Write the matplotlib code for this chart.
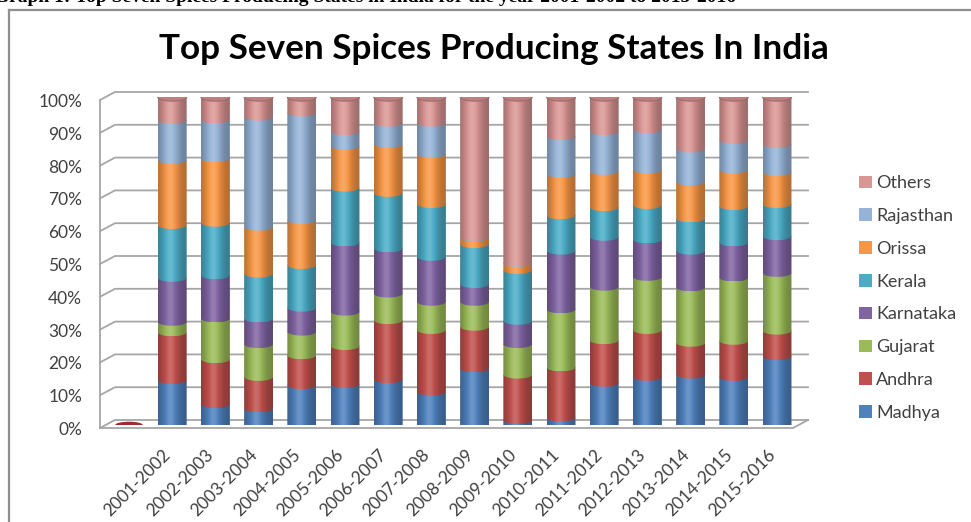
import numpy as np
import matplotlib
matplotlib.use("Agg")
import matplotlib.pyplot as plt
import matplotlib.transforms as mtransforms
from matplotlib.patches import PathPatch, Ellipse, Patch
from matplotlib.path import Path
from matplotlib.colors import to_rgb

# ---- data: share of spice production (%) by state and year ----
years = ["", "2001-2002", "2002-2003", "2003-2004", "2004-2005", "2005-2006",
         "2006-2007", "2007-2008", "2008-2009", "2009-2010", "2010-2011",
         "2011-2012", "2012-2013", "2013-2014", "2014-2015", "2015-2016"]
madhya    = [0, 13.7, 6.4, 5.1, 12.2, 12.5, 14.0, 10.2, 17.3, 1.5, 2.3, 12.9, 14.7, 15.4, 14.7, 21.0]
andhra    = [0, 14.6, 13.7, 9.6, 9.1, 11.6, 18.0, 18.8, 12.7, 13.9, 15.3, 13.0, 14.3, 9.7, 11.0, 7.8]
gujarat   = [0, 3.2, 12.4, 10.0, 7.2, 10.5, 8.1, 8.6, 7.6, 9.3, 17.7, 16.3, 16.2, 16.9, 19.3, 17.6]
karnataka = [0, 13.4, 13.2, 7.8, 7.3, 21.1, 13.8, 13.7, 5.4, 7.1, 17.9, 15.2, 11.4, 11.2, 10.7, 11.2]
kerala    = [0, 16.1, 16.0, 13.7, 13.0, 16.7, 16.9, 16.1, 12.2, 15.5, 10.8, 9.0, 10.5, 9.8, 11.1, 9.8]
orissa    = [0, 19.8, 19.6, 14.3, 13.7, 12.7, 14.9, 15.2, 2.0, 2.2, 12.5, 11.1, 10.8, 11.2, 11.1, 9.8]
rajasthan = [0, 12.2, 11.9, 33.5, 32.8, 4.5, 6.5, 9.6, 0.2, 0.2, 11.6, 12.1, 12.3, 10.1, 9.0, 8.5]
others    = [0, 7.0, 6.8, 6.0, 4.7, 10.4, 7.8, 7.8, 42.6, 50.3, 11.9, 10.4, 9.8, 15.7, 13.1, 14.3]

series_names = ["Madhya", "Andhra", "Gujarat", "Karnataka", "Kerala", "Orissa", "Rajasthan", "Others"]
series_values = [madhya, andhra, gujarat, karnataka, kerala, orissa, rajasthan, others]
series_colors = ["#4F81BD", "#C0504D", "#9BBB59", "#8064A2", "#4BACC6", "#F79646", "#95B3D7", "#D99694"]
y_ticks = list(range(0, 101, 10))

W, H, DPI = 971, 522, 100
fig = plt.figure(figsize=(W / DPI, H / DPI), dpi=DPI)
fig.patch.set_facecolor("white")

# layout of the plot plane (where the cylinders stand), in pixels
px_left, px_right = 106, 799
px_base, px_top = 425, 97
slot0_px, slot_step = 129, 43.2
front_off = (-6, 3)    # pixel shift of the front edge of the 3-D box
back_off = (9, -5)     # pixel shift of the back wall

# decoration layer in pixel units (walls, gridlines, frame)
deco = fig.add_axes([0, 0, 1, 1], zorder=0)
deco.set_xlim(0, W)
deco.set_ylim(H, 0)
deco.set_axis_off()

ax = fig.add_axes([px_left / W, (H - px_base) / H,
                   (px_right - px_left) / W, (px_base - px_top) / H], zorder=1)
ax.set_axis_off()
xl = (px_left - slot0_px) / slot_step
xr = (px_right - slot0_px) / slot_step
ax.set_xlim(xl, xr)
ax.set_ylim(0, 100)
ax.set_autoscale_on(False)


def py(p):
    return px_base - p * (px_base - px_top) / 100.0


grid_c = "#a6a6a6"
lw = 1.3
for p in y_ticks:
    fx, fy = px_left + front_off[0], py(p) + front_off[1]
    bx, by = px_left + back_off[0], py(p) + back_off[1]
    ex = px_right + back_off[0]
    deco.plot([fx, bx, ex], [fy, by, by], color=grid_c, lw=lw, solid_joinstyle="miter")
# left axis and floor
deco.plot([px_left + front_off[0]] * 2, [py(0) + front_off[1], py(100) + front_off[1]],
          color=grid_c, lw=lw)
deco.plot([px_left + front_off[0], px_right + front_off[0], px_right + back_off[0]],
          [py(0) + front_off[1], py(0) + front_off[1], py(0) + back_off[1]],
          color=grid_c, lw=lw)

# y tick labels
for p in y_ticks:
    deco.text(px_left + front_off[0] - 18, py(p) + front_off[1] + 2, f"{p}%",
              ha="right", va="center", fontsize=12.5, color="#404040", family="Lato")


def shaded(rgb, n=64):
    u = np.linspace(-1, 1, n)
    f = 0.72 + 0.36 * np.exp(-((u + 0.15) / 0.6) ** 2)
    base = np.array(rgb)[None, :]
    c = base * f[:, None]
    hi = f > 1
    c[hi] = base + (1 - base) * (f[hi, None] - 1) * 2
    return np.clip(c, 0, 1)[None, :, :]


hw = 0.335   # cylinder half-width (category units)
ry = 1.25    # ellipse half-height (percent units)
tt = np.linspace(np.pi, 2 * np.pi, 40)

vals = np.array(series_values, dtype=float)
totals = vals.sum(axis=0)
for i in range(len(years)):
    if totals[i] <= 0:
        ax.add_patch(Ellipse((i, 0), 2 * hw * 0.95, 2 * ry * 0.8,
                             facecolor="#9b2d2a", edgecolor="none", zorder=3))
        continue
    shares = vals[:, i] / totals[i] * 100
    bottom = 0.0
    for k, s in enumerate(shares):
        top = bottom + s
        xs = list(i + hw * np.cos(tt)) + [i + hw, i - hw]
        ys = list(bottom + ry * np.sin(tt)) + [top, top]
        path = Path(np.column_stack([xs, ys]))
        clip = PathPatch(path, transform=ax.transData, facecolor="none", edgecolor="none")
        im = ax.imshow(shaded(to_rgb(series_colors[k])),
                       extent=(i - hw, i + hw, bottom - ry, top),
                       aspect="auto", interpolation="bilinear", origin="lower",
                       zorder=3 + k * 0.01)
        im.set_clip_path(clip)
        bottom = top
    top_rgb = np.array(to_rgb(series_colors[-1]))
    ax.add_patch(Ellipse((i, bottom), 2 * hw, 2 * ry, facecolor=top_rgb * 0.86,
                         edgecolor=top_rgb * 0.72, lw=0.8, zorder=4))

ax.set_xlim(xl, xr)
ax.set_ylim(0, 100)

# category labels
xlab_tr = mtransforms.blended_transform_factory(ax.transData, fig.transFigure)
xlab_tr = xlab_tr + mtransforms.ScaledTranslation(-4 / DPI, 0, fig.dpi_scale_trans)
for i, lab in enumerate(years):
    if lab:
        ax.text(i, 1 - 452 / H, lab, transform=xlab_tr, rotation=45, rotation_mode="anchor",
                ha="right", va="center", fontsize=12.5, color="#404040", family="Lato")

# legend (top entry first)
handles = [Patch(facecolor=c, edgecolor="none") for c in series_colors][::-1]
fig.legend(handles, series_names[::-1], loc="upper left",
           bbox_to_anchor=(843 / W, 1 - 159 / H), frameon=False,
           prop={"family": "Lato", "size": 13}, labelcolor="#404040",
           handlelength=0.7, handleheight=0.7, handletextpad=0.25, labelspacing=0.93)

# chart title
fig.text(494 / W, 1 - 49 / H, "Top Seven Spices Producing States In India", ha="center",
         va="center", fontsize=25.3, fontweight="bold", family="Lato", color="black")

# caption line above the chart frame
fig.text(-6 / W, 1 - 1.5 / H,
         "Graph 1: Top Seven Spices Producing States in India for the year 2001-2002 to 2015-2016",
         ha="left", va="baseline", fontsize=14, fontweight="bold",
         family="Liberation Serif", color="black")

# chart frame (extends past the right and bottom edges)
deco.plot([8.5, W], [9.5, 9.5], color="#8f8f8f", lw=1.6)
deco.plot([8.5, 8.5], [9.5, H], color="#8f8f8f", lw=1.6)

fig.savefig("out.png", dpi=DPI, facecolor="white")
